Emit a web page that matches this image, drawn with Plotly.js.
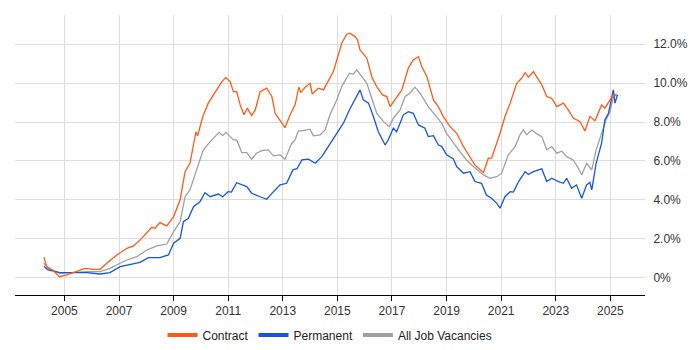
<!DOCTYPE html>
<html>
<head>
<meta charset="utf-8">
<script src="https://cdn.plot.ly/plotly-3.0.1.min.js"></script>
<style>
  html, body { margin: 0; padding: 0; background: #fff; }
  #chart { width: 700px; height: 350px; }
</style>
</head>
<body>
<div id="chart"></div>
<script>
// Decimal years and percentage values
const contractX = [2004.25,2004.35,2004.6,2004.82,2005.09,2005.45,2005.76,2006.06,2006.31,2006.55,2006.92,2007.29,2007.53,2007.83,2008.2,2008.32,2008.5,2008.75,2009.0,2009.24,2009.42,2009.6,2009.82,2009.88,2010.07,2010.27,2010.52,2010.77,2010.91,2011.07,2011.19,2011.31,2011.44,2011.58,2011.7,2011.86,2011.99,2012.17,2012.41,2012.6,2012.72,2012.9,2013.08,2013.27,2013.45,2013.59,2013.66,2013.82,2014.0,2014.08,2014.3,2014.49,2014.67,2014.85,2014.98,2015.16,2015.34,2015.46,2015.65,2015.74,2015.83,2016.08,2016.26,2016.44,2016.65,2016.81,2016.93,2017.11,2017.36,2017.6,2017.78,2017.97,2018.09,2018.28,2018.52,2018.7,2018.88,2019.13,2019.37,2019.62,2019.86,2020.04,2020.35,2020.53,2020.65,2020.84,2020.96,2021.14,2021.33,2021.57,2021.75,2021.88,2022.0,2022.18,2022.37,2022.49,2022.67,2022.85,2023.04,2023.28,2023.46,2023.64,2023.89,2024.07,2024.25,2024.44,2024.68,2024.8,2024.99,2025.11,2025.24];
const contractY = [1.05,0.57,0.36,0.05,0.14,0.31,0.48,0.43,0.43,0.74,1.17,1.51,1.63,2.02,2.59,2.54,2.83,2.66,3.14,4.0,5.45,5.88,7.5,7.29,8.28,8.97,9.56,10.08,10.28,10.08,9.56,9.56,8.88,8.37,8.71,8.33,8.62,9.56,9.74,9.31,8.45,8.11,7.71,8.37,8.88,9.79,9.51,9.79,9.99,9.44,9.74,9.65,10.16,10.59,11.19,12.05,12.51,12.57,12.39,12.22,11.71,11.28,10.33,9.82,9.39,9.31,8.79,9.14,9.65,10.77,11.19,11.36,10.85,10.33,9.14,8.79,8.28,7.76,7.42,6.74,6.22,5.79,5.4,6.14,6.14,6.91,7.42,8.28,8.97,9.99,10.25,10.54,10.3,10.59,10.16,9.91,9.31,9.22,8.79,8.97,8.62,8.2,8.02,7.54,8.28,8.07,8.88,8.71,9.14,9.39,9.39];

const permanentX = [2004.25,2004.4,2004.84,2005.33,2005.82,2006.31,2006.67,2007.04,2007.4,2007.77,2008.08,2008.5,2008.81,2009.0,2009.24,2009.36,2009.54,2009.73,2009.97,2010.15,2010.34,2010.64,2010.8,2011.0,2011.12,2011.31,2011.68,2011.86,2012.17,2012.41,2012.66,2012.9,2013.14,2013.37,2013.52,2013.7,2013.94,2014.19,2014.43,2014.67,2014.98,2015.22,2015.44,2015.65,2015.83,2015.95,2016.14,2016.32,2016.5,2016.75,2016.87,2017.05,2017.17,2017.42,2017.6,2017.78,2017.97,2018.21,2018.33,2018.52,2018.7,2018.82,2019.0,2019.25,2019.37,2019.62,2019.86,2020.04,2020.28,2020.46,2020.65,2020.84,2020.96,2021.14,2021.33,2021.45,2021.64,2021.88,2022.0,2022.18,2022.49,2022.67,2022.85,2023.1,2023.28,2023.4,2023.58,2023.76,2023.95,2024.13,2024.25,2024.32,2024.48,2024.68,2024.8,2024.93,2025.05,2025.11,2025.17,2025.26];
const permanentY = [0.57,0.4,0.26,0.26,0.26,0.19,0.26,0.57,0.69,0.79,1.03,1.03,1.17,1.77,2.02,2.88,3.05,3.65,3.91,4.37,4.16,4.3,4.16,4.42,4.4,4.88,4.68,4.34,4.16,4.03,4.42,4.77,4.85,5.54,5.6,6.05,6.09,5.88,6.22,6.74,7.42,7.94,8.62,9.14,9.65,9.14,8.97,8.28,7.5,6.82,7.1,7.68,7.5,8.37,8.53,8.45,7.85,7.68,7.25,7.3,6.82,6.75,6.31,6.1,5.71,5.37,5.45,4.94,4.85,4.25,4.08,3.82,3.57,4.16,4.42,4.4,4.94,5.45,5.3,5.45,5.59,4.94,5.11,4.94,4.85,5.11,4.6,4.77,4.08,4.77,4.9,4.51,5.88,6.91,8.11,8.45,9.31,9.65,8.97,9.39];

const allJobsX = [2004.25,2004.4,2004.84,2005.33,2005.82,2006.31,2006.67,2007.04,2007.29,2007.65,2008.02,2008.39,2008.75,2009.0,2009.24,2009.42,2009.6,2009.85,2010.09,2010.34,2010.67,2010.8,2010.92,2011.19,2011.31,2011.5,2011.68,2011.86,2012.04,2012.23,2012.47,2012.66,2012.9,2013.08,2013.33,2013.45,2013.57,2013.7,2014.0,2014.12,2014.37,2014.55,2014.73,2014.98,2015.16,2015.44,2015.58,2015.71,2015.89,2016.08,2016.26,2016.44,2016.69,2016.9,2017.05,2017.3,2017.48,2017.66,2017.84,2018.03,2018.33,2018.58,2018.82,2019.0,2019.25,2019.49,2019.73,2019.98,2020.35,2020.59,2020.84,2021.02,2021.26,2021.51,2021.69,2021.81,2021.94,2022.12,2022.3,2022.49,2022.67,2022.85,2023.04,2023.22,2023.4,2023.64,2023.83,2023.95,2024.13,2024.32,2024.48,2024.68,2024.84,2024.99,2025.11,2025.24];
const allJobsY = [0.74,0.48,0.22,0.26,0.31,0.31,0.48,0.74,0.91,1.08,1.42,1.63,1.73,2.37,2.88,4.16,4.51,5.57,6.57,6.99,7.47,7.3,7.47,7.08,7.08,6.43,6.43,6.09,6.4,6.53,6.57,6.26,6.31,6.09,6.91,7.08,7.54,7.54,7.63,7.29,7.34,7.59,8.37,9.14,9.82,10.51,10.45,10.68,10.33,9.99,9.22,8.45,8.02,7.76,8.2,8.62,9.31,9.48,9.79,9.48,8.79,8.37,7.94,7.42,6.91,6.48,6.05,5.71,5.28,5.11,5.19,5.37,6.31,6.74,7.34,7.59,7.34,7.59,7.4,7.25,6.57,6.74,6.4,6.5,6.22,6.05,5.62,5.28,5.88,5.54,6.57,7.42,8.11,8.53,9.31,9.39];

const seriesNames = ["Contract", "Permanent", "All Job Vacancies"];
const seriesColors = ["#ff5a14", "#1456dc", "#a0a0a0"];
const yTickVals = [0, 2, 4, 6, 8, 10, 12];
const yTickText = ["0%", "2.0%", "4.0%", "6.0%", "8.0%", "10.0%", "12.0%"];
const xTickVals = [2005, 2007, 2009, 2011, 2013, 2015, 2017, 2019, 2021, 2023, 2025];

const xs = [contractX, permanentX, allJobsX];
const ys = [contractY, permanentY, allJobsY];
const order = [2, 1, 0]; // draw grey first, orange on top
const traces = [];
order.forEach(i => {
  traces.push({
    type: "scatter", mode: "lines",
    x: xs[i], y: ys[i], name: seriesNames[i],
    legendgroup: seriesNames[i], showlegend: false,
    line: { color: seriesColors[i], width: 1.3 },
    hoverinfo: "skip"
  });
});
// legend entries with thick swatches
[0, 1, 2].forEach(i => {
  traces.push({
    type: "scatter", mode: "lines",
    x: [null], y: [null], name: seriesNames[i],
    legendgroup: seriesNames[i], showlegend: true,
    line: { color: seriesColors[i], width: 4 }
  });
});

const layout = {
  width: 700, height: 350,
  margin: { l: 15, r: 55, t: 15, b: 55, autoexpand: false },
  paper_bgcolor: "#fff", plot_bgcolor: "#fff",
  font: { family: "Liberation Sans, Arial, sans-serif", size: 12, color: "#333" },
  showlegend: true,
  legend: {
    orientation: "h", x: 0.5, xanchor: "center",
    yref: "container", y: 0.043, yanchor: "middle",
    font: { size: 12, color: "#222" }, itemgap: 6, traceorder: "normal"
  },
  xaxis: {
    type: "linear", range: [2003.19, 2026.27],
    tickvals: xTickVals, tickformat: "d",
    showgrid: true, gridcolor: "#dcdcdc", gridwidth: 1,
    showline: true, linecolor: "#000", linewidth: 1,
    ticks: "outside", ticklen: 5, tickcolor: "#000",
    zeroline: false, fixedrange: true, automargin: false
  },
  yaxis: {
    side: "right", range: [-0.89, 13.5],
    tickvals: yTickVals, ticktext: yTickText,
    showgrid: true, gridcolor: "#dcdcdc", gridwidth: 1,
    showline: false, zeroline: false,
    ticks: "outside", ticklen: 5, tickcolor: "rgba(0,0,0,0)",
    fixedrange: true, automargin: false
  }
};

Plotly.newPlot("chart", traces, layout, { staticPlot: true, displayModeBar: false });
</script>
</body>
</html>
